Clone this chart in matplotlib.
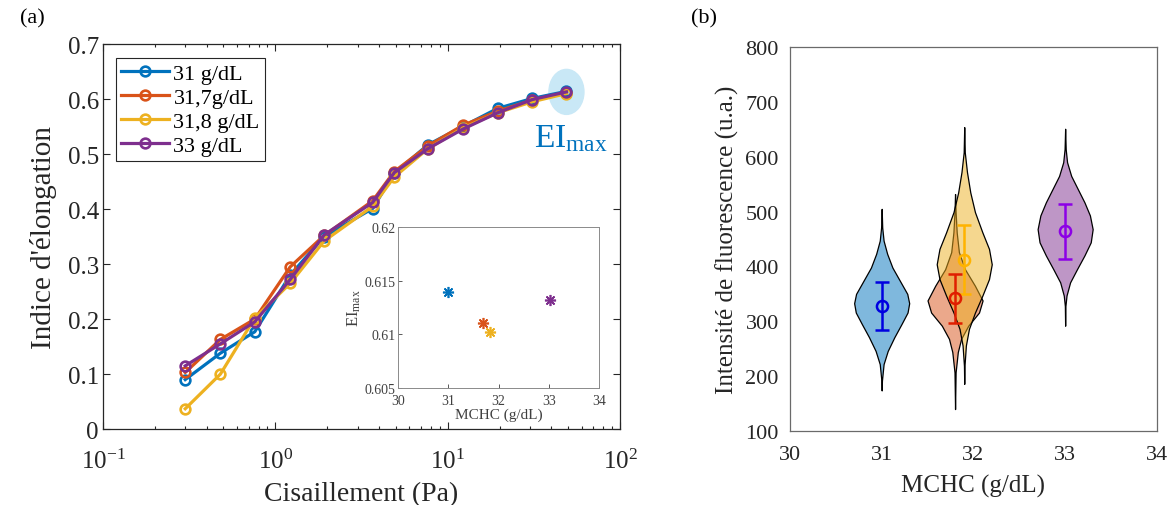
import matplotlib
matplotlib.use("Agg")
import matplotlib.pyplot as plt
import matplotlib.transforms as mtransforms
from matplotlib.patches import Ellipse
from matplotlib.colors import to_rgba
from matplotlib.ticker import LogLocator, NullFormatter, FormatStrFormatter
import numpy as np

plt.rcParams['font.family'] = 'Liberation Serif'
plt.rcParams['mathtext.fontset'] = 'custom'
plt.rcParams['mathtext.rm'] = 'Liberation Serif'
plt.rcParams['mathtext.it'] = 'Liberation Serif:italic'
plt.rcParams['mathtext.bf'] = 'Liberation Serif:bold'
plt.rcParams['axes.unicode_minus'] = False

# (a) elongation index vs shear stress
shear = [0.30, 0.48, 0.76, 1.22, 1.92, 3.67, 4.89, 7.7, 12.2, 19.5, 30.9, 48.9]
ei_31 = [0.090, 0.138, 0.177, 0.280, 0.350, 0.401, 0.465, 0.517, 0.550, 0.583, 0.601, 0.614]
ei_317 = [0.103, 0.163, 0.200, 0.295, 0.352, 0.415, 0.468, 0.515, 0.552, 0.578, 0.598, 0.611]
ei_318 = [0.037, 0.100, 0.202, 0.265, 0.342, 0.405, 0.458, 0.510, 0.547, 0.575, 0.595, 0.610]
ei_33 = [0.115, 0.155, 0.195, 0.272, 0.353, 0.412, 0.466, 0.510, 0.545, 0.575, 0.599, 0.613]
series_labels = ['31 g/dL', '31,7g/dL', '31,8 g/dL', '33 g/dL']
colors = ['#0072BD', '#D95319', '#EDB120', '#7E2F8E']

# inset: EI max vs MCHC
inset_mchc = [31.0, 31.7, 31.83, 33.03]
inset_ei_max = [0.6139, 0.6111, 0.6102, 0.6132]

# (b) fluorescence violins (levels in u.a., relative half-width)
violin_pos = [31.0, 31.8, 31.9, 33.0]
lev_31 = [505, 471, 447, 423, 398, 374, 350, 333, 316, 295, 271, 246, 222, 192, 174]
wid_31 = [0, 0.02, 0.07, 0.20, 0.39, 0.66, 0.93, 1.0, 0.94, 0.72, 0.46, 0.22, 0.07, 0.01, 0]
lev_317 = [532, 499, 462, 426, 395, 365, 338, 316, 292, 268, 244, 207, 140]
wid_317 = [0, 0.02, 0.06, 0.14, 0.36, 0.72, 1.0, 0.87, 0.48, 0.22, 0.10, 0.02, 0]
lev_318 = [654, 608, 572, 535, 499, 462, 432, 404, 377, 347, 316, 286, 256, 219, 186]
wid_318 = [0, 0.02, 0.10, 0.22, 0.39, 0.66, 0.90, 1.0, 0.90, 0.66, 0.39, 0.17, 0.06, 0.01, 0]
lev_33 = [651, 614, 590, 565, 541, 517, 493, 468, 444, 420, 395, 371, 347, 328, 292]
wid_33 = [0, 0.02, 0.07, 0.22, 0.46, 0.70, 0.90, 1.0, 0.93, 0.70, 0.43, 0.18, 0.05, 0.01, 0]
fl_mean = [328, 342, 412, 464]
fl_std = [44, 45, 63, 50]
bar_colors = ['#0000E0', '#E01E00', '#FFB300', '#8C00E6']

fig = plt.figure(figsize=(11.72, 5.06), dpi=100)

# ---------- panel (a)
ax = fig.add_axes([0.0879, 0.150, 0.4411, 0.761])
for y, c, lab in zip([ei_31, ei_317, ei_318, ei_33], colors, series_labels):
    ax.plot(shear, y, '-o', color=c, lw=2.3, ms=7, mfc='none', mew=1.9, label=lab, zorder=3)

# EI max highlight
tr = fig.dpi_scale_trans + mtransforms.ScaledTranslation(shear[-1], ei_33[-1], ax.transData)
ax.add_patch(Ellipse((0, 0), 0.35, 0.45, transform=tr, color='#c9e8f6', zorder=1))
ax.text(31.5, 0.515, r'EI$_\mathrm{max}$', color='#0072BD', fontsize=24, va='baseline')

ax.set_xscale('log')
ax.set_xlim(0.1, 100)
ax.set_ylim(0, 0.7)
ax.set_yticks(np.arange(0, 0.71, 0.1))
ax.yaxis.set_major_formatter(FormatStrFormatter('%g'))
ax.xaxis.set_major_locator(LogLocator(base=10, numticks=10))
ax.xaxis.set_minor_locator(LogLocator(base=10, subs=np.arange(2, 10), numticks=10))
ax.xaxis.set_minor_formatter(NullFormatter())
ax.tick_params(which='both', direction='in', top=True, right=True, labelsize=18,
               colors='#262626', width=0.8)
ax.tick_params(which='major', length=5)
ax.tick_params(which='minor', length=2.5)
ax.tick_params(axis='x', pad=14)
ax.tick_params(axis='y', pad=3)
for s in ax.spines.values():
    s.set_color('#262626')
    s.set_linewidth(0.9)
ax.set_xlabel('Cisaillement (Pa)', fontsize=20, color='#262626')
ax.set_ylabel("Indice d'élongation", fontsize=21, color='#262626')
ax.yaxis.set_label_coords(-0.089, 0.5)
ax.xaxis.set_label_coords(0.5, -0.135)
leg = ax.legend(loc='upper left', bbox_to_anchor=(0.025, 0.964), borderaxespad=0,
                fontsize=16, fancybox=False, edgecolor='#262626', framealpha=1,
                handlelength=2.14, handletextpad=0.2, labelspacing=0.15, borderpad=0.25)
leg.get_frame().set_linewidth(0.8)

# inset
axi = fig.add_axes([0.3396, 0.2312, 0.1715, 0.3182])
for xv, yv, c in zip(inset_mchc, inset_ei_max, colors):
    axi.plot(xv, yv, marker=(8, 2, 0), color=c, ms=8, mew=1.2, ls='none')
axi.set_xlim(30, 34)
axi.set_ylim(0.605, 0.62)
axi.set_xticks([30, 31, 32, 33, 34])
axi.set_yticks([0.605, 0.61, 0.615, 0.62])
axi.yaxis.set_major_formatter(FormatStrFormatter('%g'))
axi.tick_params(direction='in', length=3, labelsize=10, colors='#404040', width=0.6, pad=2)
axi.tick_params(axis='x', pad=4)
for s in axi.spines.values():
    s.set_color('#8a8a8a')
    s.set_linewidth(0.7)
axi.set_xlabel('MCHC (g/dL)', fontsize=11, color='#404040', labelpad=1)
axi.set_ylabel(r'EI$_\mathrm{max}$', fontsize=12, color='#404040', labelpad=1)

# ---------- panel (b)
bx = fig.add_axes([0.674, 0.1462, 0.3131, 0.7589])
half = 0.30
for pos, lev, wid, c in zip(violin_pos, [lev_31, lev_317, lev_318, lev_33],
                            [wid_31, wid_317, wid_318, wid_33], colors):
    w = np.array(wid) * half
    bx.fill_betweenx(lev, pos - w, pos + w, facecolor=to_rgba(c, 0.5),
                     edgecolor='black', linewidth=0.9)
for pos, m, sd, c in zip(violin_pos, fl_mean, fl_std, bar_colors):
    bx.errorbar(pos, m, yerr=sd, fmt='o', color=c, ms=8, mfc='none', mew=1.8,
                elinewidth=1.8, capsize=5, capthick=1.8, zorder=4)
bx.set_xlim(30, 34)
bx.set_ylim(100, 800)
bx.set_xticks([30, 31, 32, 33, 34])
bx.set_yticks(np.arange(100, 801, 100))
bx.tick_params(length=0, labelsize=16, colors='#262626', pad=8)
bx.tick_params(axis='x', pad=10)
for s in bx.spines.values():
    s.set_color('#6a6a6a')
    s.set_linewidth(0.9)
bx.set_xlabel('MCHC (g/dL)', fontsize=18, color='#262626')
bx.set_ylabel('Intensité de fluorescence (u.a.)', fontsize=18, color='#262626')
bx.yaxis.set_label_coords(-0.138, 0.5)
bx.xaxis.set_label_coords(0.5, -0.112)

fig.text(0.017, 0.962, '(a)', fontsize=16, va='center')
fig.text(0.590, 0.962, '(b)', fontsize=16, va='center')

fig.savefig('out.png', dpi=100)
